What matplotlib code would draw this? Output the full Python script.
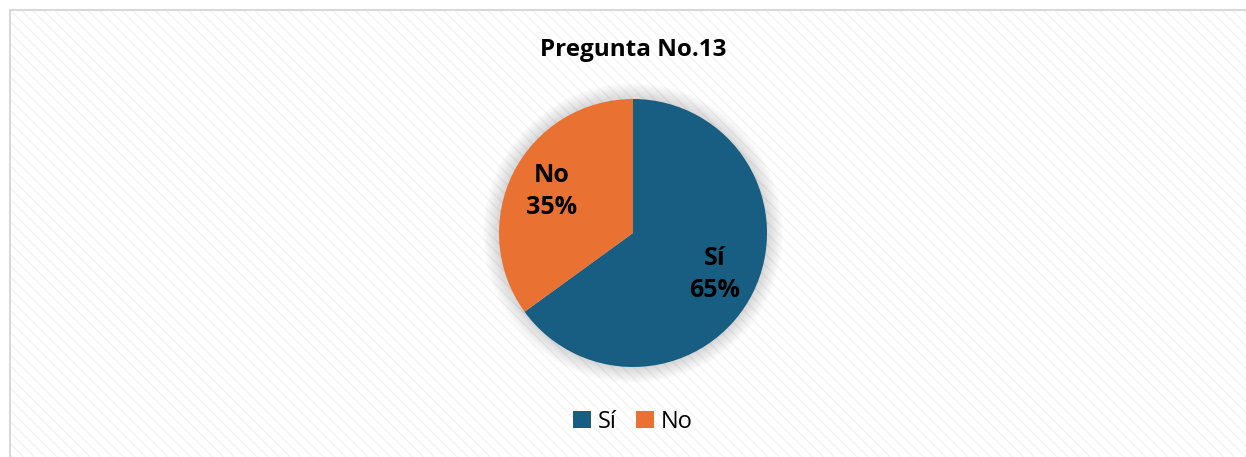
import matplotlib
matplotlib.use("Agg")
import matplotlib.pyplot as plt
from matplotlib.patches import Rectangle, Circle
import numpy as np

categories = ["Sí", "No"]
values = [65, 35]
colors = ["#175E82", "#E97132"]
title = "Pregunta No.13"

plt.rcParams['font.family'] = ['Open Sans', 'DejaVu Sans']

W, H = 1246, 457
fig = plt.figure(figsize=(W / 100, H / 100), dpi=100)
fig.patch.set_facecolor("white")

# chart area background with faint diagonal texture
bg = Rectangle((10 / W, -0.05), 1.1, (H - 10) / H + 0.05, transform=fig.transFigure,
               facecolor="white", edgecolor="#f3f3f3", hatch="\\\\\\", linewidth=0, zorder=0)
fig.patches.append(bg)
border = Rectangle((10 / W, -0.05), 1.1, (H - 10) / H + 0.05, transform=fig.transFigure,
                   facecolor="none", edgecolor="#d9d9d9", linewidth=1.5, zorder=1)
fig.patches.append(border)

cx, cy, r = 633, 233, 134
ax = fig.add_axes([(cx - r) / W, (H - cy - r) / H, 2 * r / W, 2 * r / H])
ax.set_zorder(5)

# soft shadow around the pie
for rr in np.linspace(1.0, 1.12, 14):
    ax.add_patch(Circle((0, 0), rr, facecolor="#000000", alpha=0.012, linewidth=0,
                        zorder=0, clip_on=False))

labels = [f"{c}\n{v}%" for c, v in zip(categories, values)]
wedges, texts = ax.pie(values, colors=colors, startangle=90, counterclock=False,
                       labels=labels, labeldistance=0.68, radius=1,
                       wedgeprops=dict(linewidth=0),
                       textprops=dict(fontsize=18, fontweight="bold", color="black",
                                      ha="center", va="center", multialignment="center",
                                      linespacing=1.4))
for w in wedges:
    w.set_zorder(2)
ax.set_xlim(-1, 1)
ax.set_ylim(-1, 1)
ax.set_aspect("equal")
ax.axis("off")

fig.text(cx / W, (H - 50) / H, title, ha="center", va="center",
         fontsize=17.5, fontweight="bold", zorder=6)

leg = fig.legend(wedges, categories, loc="center", bbox_to_anchor=(cx / W, (H - 422) / H),
                 ncol=2, frameon=False, fontsize=17, handlelength=0.75, handleheight=0.75,
                 handletextpad=0.3, columnspacing=0.8)
leg.set_zorder(6)

fig.savefig("out.png", dpi=100)
